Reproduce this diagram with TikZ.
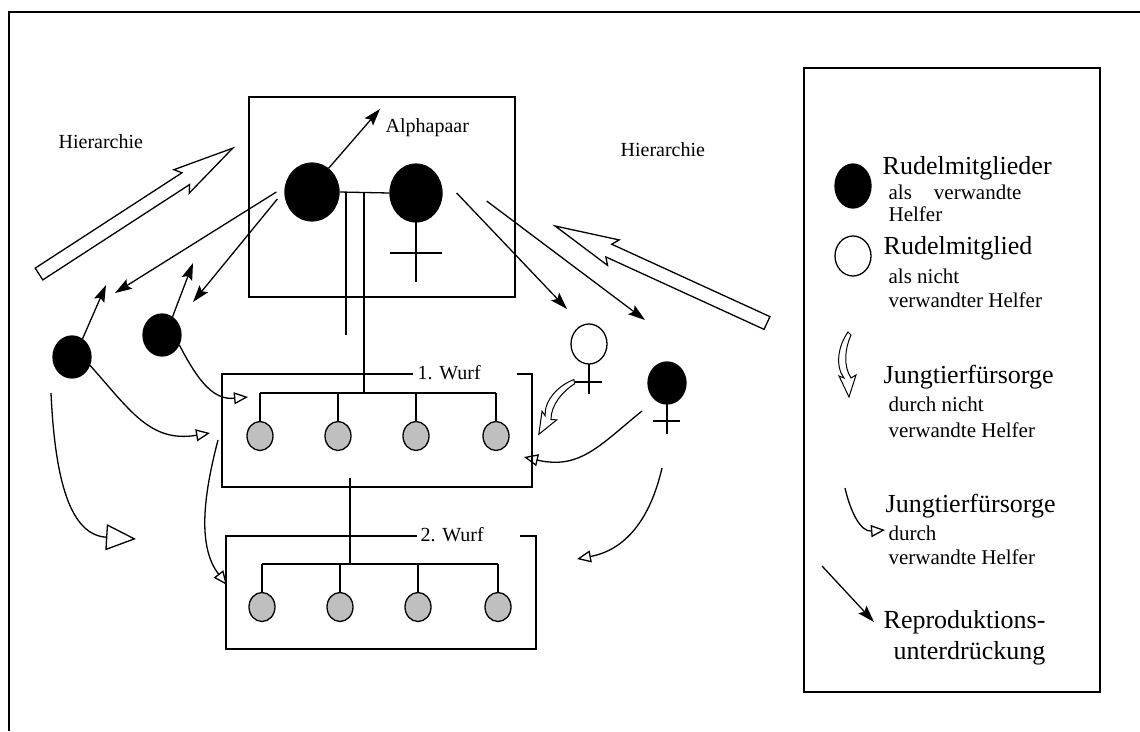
\documentclass[tikz,border=0pt]{standalone}
\usepackage{fontspec}
\setmainfont{Liberation Serif}
\usetikzlibrary{shapes.geometric,arrows.meta}
\definecolor{pupgray}{gray}{0.75}
\newcommand{\bigtxt}{\fontsize{26}{30}\selectfont}
\newcommand{\smalltxt}{\fontsize{21}{24}\selectfont}
\newcommand{\midtxt}{\fontsize{20}{24}\selectfont}
\tikzset{
  blackdot/.style={ellipse, draw, fill=black, inner sep=0pt},
  whitedot/.style={ellipse, draw, fill=white, inner sep=0pt, minimum width=36pt, minimum height=40pt},
  pup/.style={ellipse, draw, fill=pupgray, inner sep=0pt, minimum width=26pt, minimum height=29pt},
  supp/.style={-{Stealth[length=17pt,width=11pt,inset=3pt]}},
  care/.style={-{Triangle[open,length=14pt,width=12pt]}},
  bigcare/.style={-{Triangle[open,length=30pt,width=26pt]}},
  lbl/.style={anchor=west, inner sep=0pt},
  curly/.pic={\draw[fill=white, line width=1pt] (1,0) .. controls (-9,14) and (-12,34) .. (-3,46) -- (-8,44) -- (2,65) -- (9,43) -- (4,46) .. controls (-4,34) and (-2,16) .. (4,3) -- cycle;},
}

\begin{document}
\begin{tikzpicture}[x=1pt,y=-1pt,line width=1.3pt]
\useasboundingbox (0,0) rectangle (1140,731);
\draw (9,731) -- (9,12) -- (1140,12);

% alpha pair
\draw (249,97) rectangle (515,297);
\node[blackdot, minimum width=54pt, minimum height=58pt] (alphaM) at (312,192) {};
\node[blackdot, minimum width=52pt, minimum height=58pt] (alphaF) at (416,193) {};
\draw (alphaM.east) -- (alphaF.west);
\draw (416,222) -- (416,282);
\draw (390,253) -- (442,253);
\node[lbl] (pair) at (385,128) {\midtxt Alphapaar};
\coordinate (pairTip) at (380,109);
\draw[supp] (alphaM.55) -- (pairTip);

% helpers
\node[blackdot, minimum width=38pt, minimum height=42pt] (helperA) at (72,357) {};
\node[blackdot, minimum width=38pt, minimum height=42pt] (helperB) at (162,335) {};
\node[whitedot] (helperW) at (589,344) {};
\draw (589,364) -- (589,394);
\draw (575,382) -- (602,382);
\node[blackdot, minimum width=38pt, minimum height=42pt] (helperF) at (667,383) {};
\draw (667,404) -- (667,434);
\draw (653,421) -- (680,421);

% 1. Wurf
\draw (517,374) -- (532,374) -- (532,487) -- (222,487) -- (222,374) -- (413,374);
\node[lbl] (wurfA) at (417,373) {\midtxt 1. Wurf};
\draw (260,393) -- (496,393);
\foreach \x [count=\i] in {260,338,416,496} {
  \node[pup] (pupA\i) at (\x,436) {};
  \draw (pupA\i.north) -- (\x,393);
}
% 2. Wurf
\draw (520,536) -- (536,536) -- (536,649) -- (226,649) -- (226,536) -- (417,536);
\node[lbl] (wurfB) at (420,535) {\midtxt 2. Wurf};
\draw (262,564) -- (498,564);
\foreach \x [count=\i] in {262,340,418,498} {
  \node[pup] (pupB\i) at (\x,607) {};
  \draw (pupB\i.north) -- (\x,564);
}
% lines of descent
\draw (346,193) -- (346,335);
\draw (364,193) -- (364,393);
\draw (350,478) -- (350,564);

% hierarchy
\node[lbl] (hierL) at (58,142) {\midtxt Hierarchie};
\node[lbl] (hierR) at (620,150) {\midtxt Hierarchie};
\begin{scope}[shift={(39,274)}, rotate=33]
  \draw (0,-7) -- (175,-7) -- (170,-14) -- (231,0) -- (170,14) -- (175,7) -- (0,7) -- cycle;
\end{scope}
\begin{scope}[shift={(767,323)}, rotate=155.4]
  \draw (0,-7) -- (174,-7) -- (169,-14) -- (233,0) -- (169,14) -- (174,7) -- (0,7) -- cycle;
\end{scope}

% suppression
\coordinate (tipA) at (115,293);
\coordinate (tipB) at (193,302);
\coordinate (tipC) at (106,285);
\coordinate (tipD) at (193,263);
\coordinate (tipE) at (567,309);
\coordinate (tipF) at (645,320);
\draw[supp] ([xshift=-8pt]alphaM.west) -- (tipA);
\draw[supp] ([shift={(-7pt,-7pt)}]alphaM.west) -- (tipB);
\draw[supp] (helperA.60) -- (tipC);
\draw[supp] (helperB.60) -- (tipD);
\draw[supp] ([xshift=14pt]alphaF.east) -- (tipE);
\draw[supp] ([shift={(44pt,-8pt)}]alphaF.east) -- (tipF);

% care by related helpers
\coordinate (aLow) at (51,393);
\coordinate (wLeft) at (218,440);
\coordinate (fLow) at (642,411);
\coordinate (fLow2) at (662,468);
\draw[care] (helperB.-30) .. controls (200,385) and (215,400) .. (248,397);
\draw[care] (helperA.-25) .. controls (130,410) and (150,443) .. (210,433);
\draw[bigcare] (aLow) .. controls (55,480) and (70,535) .. (136,539);
\draw[care] (wLeft) .. controls (205,490) and (196,545) .. (227,585);
\draw[care] (fLow) .. controls (600,445) and (580,470) .. (524,457);
\draw[care] (fLow2) .. controls (650,520) and (625,550) .. (577,559);

% care by non-related helper
\pic[rotate=-33.5] at (573,379) {curly};

% legend
\draw (804,68) rectangle (1100,692);
\node[blackdot, minimum width=36pt, minimum height=44pt] (keyBlack) at (853,186) {};
\node[lbl] (keyBlackA) at (882,168) {\bigtxt Rudelmitglieder};
\node[lbl] (keyBlackB) at (888,192) {\smalltxt als\hspace{22pt}verwandte};
\node[lbl] (keyBlackC) at (888,214) {\smalltxt Helfer};
\node[whitedot] (keyWhite) at (853,256) {};
\node[lbl] (keyWhiteA) at (883,248) {\bigtxt Rudelmitglied};
\node[lbl] (keyWhiteB) at (888,276) {\smalltxt als nicht};
\node[lbl] (keyWhiteC) at (888,300) {\smalltxt verwandter Helfer};
\pic at (847,332) {curly};
\node[lbl] (keyCurlA) at (883,377) {\bigtxt Jungtierfürsorge};
\node[lbl] (keyCurlB) at (888,404) {\smalltxt durch nicht};
\node[lbl] (keyCurlC) at (888,430) {\smalltxt verwandte Helfer};
\coordinate (keyCareS) at (845,488);
\coordinate (keyCareE) at (885,530);
\draw[care] (keyCareS) .. controls (850,510) and (860,532) .. (keyCareE);
\node[lbl] (keyCareA) at (885,506) {\bigtxt Jungtierfürsorge};
\node[lbl] (keyCareB) at (888,533) {\smalltxt durch};
\node[lbl] (keyCareC) at (888,557) {\smalltxt verwandte Helfer};
\coordinate (keySuppS) at (822,566);
\coordinate (keySuppE) at (874,622);
\draw[supp] (keySuppS) -- (keySuppE);
\node[lbl] (keySuppA) at (883,622) {\bigtxt Reproduktions-};
\node[lbl] (keySuppB) at (893,653) {\bigtxt unterdrückung};
\end{tikzpicture}
\end{document}
